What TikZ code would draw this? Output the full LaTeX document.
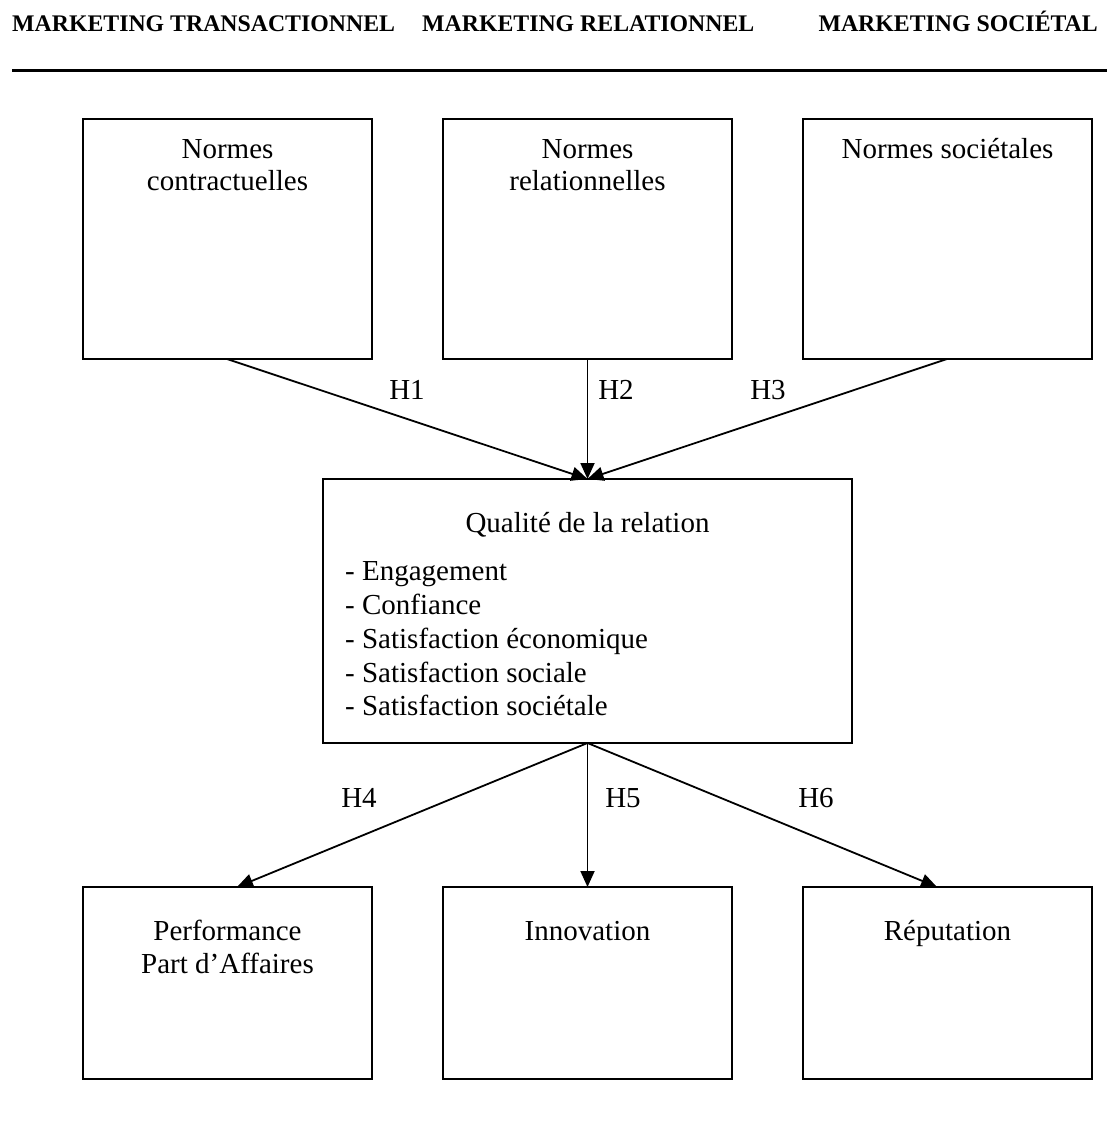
\documentclass[tikz,border=0pt]{standalone}
\usepackage{fontspec}
\setmainfont{Liberation Serif}
\usetikzlibrary{arrows.meta}
\begin{document}
\begin{tikzpicture}[x=1pt,y=-1pt,
  box/.style={draw,line width=2pt,inner sep=0pt},
  txt/.style={inner sep=0pt,anchor=base,font=\fontsize{29}{34}\selectfont},
  ltxt/.style={txt,anchor=base west},
  hdr/.style={inner sep=0pt,anchor=base west,font=\fontsize{23.8}{28}\selectfont\bfseries},
  lbl/.style={txt},
  arr/.style={line width=1.8pt,-{Triangle[length=16pt,width=14pt]}}]
\useasboundingbox (0,0) rectangle (1107,1121);
% header
\node[hdr] (h1) at (12,32) {MARKETING TRANSACTIONNEL};
\node[hdr] (h2) at (422,32) {MARKETING RELATIONNEL};
\node[hdr,anchor=base east] (h3) at (1098,32) {MARKETING SOCIÉTAL};
\coordinate (rl) at (12,71);
\coordinate (rr) at (1107,71);
\draw[line width=3pt] (rl) -- (rr);
% top boxes
\draw[box] (83,119) rectangle (372,359);
\draw[box] (443,119) rectangle (732,359);
\draw[box] (803,119) rectangle (1092,359);
\node[txt] (t1a) at (227.5,158) {Normes};
\node[txt] (t1b) at (227.5,190) {contractuelles};
\node[txt] (t2a) at (587.5,158) {Normes};
\node[txt] (t2b) at (587.5,190) {relationnelles};
\node[txt] (t3a) at (947.5,158) {Normes sociétales};
% middle box
\draw[box] (323,479) rectangle (852,743);
\node[txt] (mq) at (587.5,532) {Qualité de la relation};
\node[ltxt] (m1) at (345,580) {- Engagement};
\node[ltxt] (m2) at (345,614) {- Confiance};
\node[ltxt] (m3) at (345,648) {- Satisfaction économique};
\node[ltxt] (m4) at (345,682) {- Satisfaction sociale};
\node[ltxt] (m5) at (345,715) {- Satisfaction sociétale};
% bottom boxes
\draw[box] (83,887) rectangle (372,1079);
\draw[box] (443,887) rectangle (732,1079);
\draw[box] (803,887) rectangle (1092,1079);
\node[txt] (b1a) at (227.5,940) {Performance};
\node[txt] (b1b) at (227.5,973) {Part d’Affaires};
\node[txt] (b2a) at (587.5,940) {Innovation};
\node[txt] (b3a) at (947.5,940) {Réputation};
% connector end points
\coordinate (s1) at (227,359);
\coordinate (s2) at (587.5,359);
\coordinate (s3) at (947,359);
\coordinate (mt) at (587.5,479);
\coordinate (mb) at (587.5,743);
\coordinate (e4) at (237,887);
\coordinate (e5) at (587.5,887);
\coordinate (e6) at (937,887);
\draw[arr] (s1) -- (mt);
\draw[arr] (s2) -- (mt);
\draw[arr] (s3) -- (mt);
\draw[arr] (mb) -- (e4);
\draw[arr] (mb) -- (e5);
\draw[arr] (mb) -- (e6);
% labels
\node[lbl] (H1) at (407,399) {H1};
\node[lbl] (H2) at (616,399) {H2};
\node[lbl] (H3) at (768,399) {H3};
\node[lbl] (H4) at (359,807) {H4};
\node[lbl] (H5) at (623,807) {H5};
\node[lbl] (H6) at (816,807) {H6};
\end{tikzpicture}
\end{document}
